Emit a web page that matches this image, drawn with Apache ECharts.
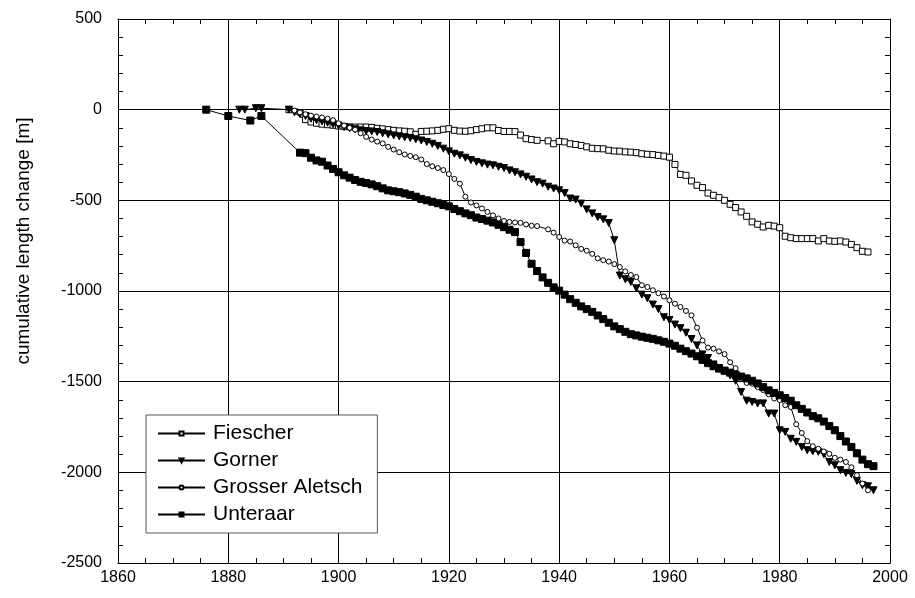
<!DOCTYPE html>
<html>
<head>
<meta charset="utf-8">
<script src="https://cdn.jsdelivr.net/npm/echarts@6/dist/echarts.min.js"></script>
<style>
  html, body { margin: 0; padding: 0; background: #fff; }
  #chart { width: 915px; height: 598px; }
</style>
</head>
<body>
<div id="chart"></div>
<script>
// Cumulative length change [m] of four Swiss glaciers, as [year, value]
const fiescher = [
  [1891,0],[1894,-55],[1895,-68],[1896,-75],[1897,-80],[1898,-83],[1899,-86],[1900,-90],
  [1901,-92],[1902,-95],[1903,-96],[1904,-96],[1905,-96],[1906,-98],[1907,-103],[1908,-106],
  [1909,-110],[1910,-114],[1911,-117],[1912,-119],[1913,-122],[1914,-136],[1915,-120],[1916,-119],
  [1917,-117],[1918,-114],[1919,-108],[1920,-105],[1921,-114],[1922,-118],[1923,-119],[1924,-116],
  [1925,-110],[1926,-105],[1927,-100],[1928,-100],[1929,-115],[1930,-120],[1931,-120],[1932,-121],
  [1933,-140],[1934,-160],[1935,-165],[1936,-169],[1938,-172],[1939,-188],[1940,-175],[1941,-178],
  [1942,-188],[1943,-192],[1944,-197],[1945,-205],[1946,-213],[1947,-215],[1948,-216],[1949,-224],
  [1950,-228],[1951,-229],[1952,-233],[1953,-234],[1954,-237],[1955,-243],[1956,-246],[1957,-248],
  [1958,-252],[1959,-256],[1960,-262],[1961,-302],[1962,-357],[1963,-362],[1964,-393],[1965,-417],
  [1966,-430],[1967,-460],[1968,-472],[1969,-485],[1970,-500],[1971,-522],[1972,-540],[1973,-564],
  [1974,-588],[1975,-619],[1976,-632],[1977,-647],[1978,-638],[1979,-642],[1980,-651],[1981,-698],
  [1982,-706],[1983,-711],[1984,-711],[1985,-711],[1986,-711],[1987,-724],[1988,-711],[1989,-724],
  [1990,-726],[1991,-724],[1992,-730],[1993,-743],[1994,-761],[1995,-781],[1996,-785]
];

const gorner = [
  [1882,0],[1883,0],[1885,8],[1886,8],[1891,0],[1892,-15],[1893,-25],[1894,-35],[1895,-50],
  [1896,-58],[1897,-65],[1898,-72],[1899,-80],[1900,-88],[1901,-96],[1902,-102],[1903,-108],
  [1904,-114],[1905,-118],[1906,-120],[1907,-123],[1908,-130],[1909,-136],[1910,-142],[1911,-147],
  [1912,-152],[1913,-156],[1914,-163],[1915,-170],[1916,-178],[1917,-188],[1918,-200],[1919,-215],
  [1920,-230],[1921,-243],[1922,-252],[1923,-265],[1924,-278],[1925,-288],[1926,-296],[1927,-303],
  [1928,-307],[1929,-315],[1930,-322],[1931,-335],[1932,-345],[1933,-357],[1934,-370],[1935,-385],
  [1936,-400],[1937,-408],[1938,-425],[1939,-435],[1940,-445],[1941,-460],[1942,-490],[1943,-496],
  [1944,-518],[1945,-550],[1946,-572],[1947,-592],[1948,-605],[1949,-625],[1950,-720],[1951,-915],
  [1952,-935],[1953,-950],[1954,-985],[1955,-1020],[1956,-1040],[1957,-1075],[1958,-1100],[1959,-1145],
  [1960,-1160],[1961,-1185],[1962,-1205],[1963,-1230],[1964,-1265],[1965,-1300],[1966,-1350],[1967,-1370],
  [1968,-1405],[1969,-1425],[1970,-1440],[1971,-1465],[1972,-1495],[1973,-1557],[1974,-1605],[1975,-1612],
  [1976,-1620],[1977,-1620],[1978,-1676],[1979,-1676],[1980,-1768],[1981,-1777],[1982,-1815],[1983,-1832],
  [1984,-1860],[1985,-1878],[1986,-1884],[1987,-1887],[1988,-1900],[1989,-1943],[1990,-1961],[1991,-1988],
  [1992,-2003],[1993,-2010],[1994,-2047],[1995,-2071],[1996,-2077],[1997,-2099]
];

const grosserAletsch = [
  [1892,-5],[1893,-15],[1894,-25],[1895,-33],[1896,-38],[1897,-43],[1898,-50],[1899,-58],
  [1900,-75],[1901,-88],[1902,-100],[1903,-110],[1904,-130],[1905,-150],[1906,-165],[1907,-176],
  [1908,-186],[1909,-205],[1910,-220],[1911,-235],[1912,-247],[1913,-255],[1914,-262],[1915,-275],
  [1916,-300],[1917,-312],[1918,-322],[1919,-333],[1920,-355],[1921,-382],[1922,-408],[1923,-480],
  [1924,-512],[1925,-528],[1926,-545],[1927,-564],[1928,-583],[1929,-600],[1930,-614],[1931,-619],
  [1932,-622],[1933,-624],[1934,-633],[1935,-640],[1936,-642],[1938,-660],[1939,-678],[1940,-702],
  [1941,-722],[1942,-727],[1943,-748],[1944,-768],[1945,-778],[1946,-795],[1947,-820],[1948,-830],
  [1949,-838],[1950,-852],[1951,-868],[1952,-892],[1953,-912],[1954,-923],[1955,-968],[1956,-978],
  [1957,-996],[1958,-1012],[1959,-1030],[1960,-1051],[1961,-1070],[1962,-1088],[1963,-1110],[1964,-1134],
  [1965,-1202],[1966,-1273],[1967,-1312],[1968,-1318],[1969,-1333],[1970,-1348],[1971,-1393],[1972,-1426],
  [1973,-1468],[1974,-1507],[1975,-1511],[1976,-1530],[1977,-1546],[1978,-1570],[1979,-1593],[1980,-1601],
  [1981,-1630],[1982,-1640],[1983,-1735],[1984,-1783],[1985,-1828],[1986,-1856],[1987,-1870],[1988,-1885],
  [1989,-1898],[1990,-1920],[1991,-1930],[1992,-1943],[1993,-1972],[1994,-2016],[1995,-2062],[1996,-2099]
];

const unteraar = [
  [1876,0],[1880,-35],[1884,-60],[1886,-35],[1893,-237],[1894,-240],[1895,-265],[1896,-280],
  [1897,-287],[1898,-308],[1899,-327],[1900,-345],[1901,-362],[1902,-375],[1903,-388],[1904,-398],
  [1905,-405],[1906,-412],[1907,-422],[1908,-434],[1909,-445],[1910,-450],[1911,-455],[1912,-462],
  [1913,-470],[1914,-480],[1915,-492],[1916,-500],[1917,-508],[1918,-516],[1919,-526],[1920,-533],
  [1921,-548],[1922,-560],[1923,-572],[1924,-582],[1925,-595],[1926,-603],[1927,-612],[1928,-622],
  [1929,-635],[1930,-648],[1931,-662],[1932,-675],[1933,-730],[1934,-790],[1935,-850],[1936,-890],
  [1937,-925],[1938,-955],[1939,-980],[1940,-998],[1941,-1020],[1942,-1045],[1943,-1065],[1944,-1085],
  [1945,-1100],[1946,-1115],[1947,-1135],[1948,-1155],[1949,-1175],[1950,-1195],[1951,-1210],[1952,-1225],
  [1953,-1238],[1954,-1245],[1955,-1252],[1956,-1258],[1957,-1264],[1958,-1272],[1959,-1280],[1960,-1290],
  [1961,-1302],[1962,-1318],[1963,-1332],[1964,-1345],[1965,-1360],[1966,-1380],[1967,-1398],[1968,-1415],
  [1969,-1428],[1970,-1440],[1971,-1450],[1972,-1462],[1973,-1472],[1974,-1482],[1975,-1495],[1976,-1510],
  [1977,-1530],[1978,-1548],[1979,-1562],[1980,-1575],[1981,-1590],[1982,-1605],[1983,-1630],[1984,-1650],
  [1985,-1670],[1986,-1690],[1987,-1702],[1988,-1720],[1989,-1745],[1990,-1768],[1991,-1800],[1992,-1830],
  [1993,-1860],[1994,-1895],[1995,-1930],[1996,-1955],[1997,-1966]
];

const seriesNames = ['Fiescher', 'Gorner', 'Grosser Aletsch', 'Unteraar'];
const yAxisTitle = 'cumulative length change [m]';

const FONT = '"Liberation Sans", Arial, Helvetica, sans-serif';
const INK = '#000';

// plain integers, no thousands separators
const plain = function (v) { return String(Math.round(v)); };

const chart = echarts.init(document.getElementById('chart'), null, { renderer: 'canvas' });

function frameAxis(extra) {
  return Object.assign({
    type: 'value',
    axisLine: { show: true, onZero: false, lineStyle: { color: INK, width: 1 } },
    axisTick: { show: true, inside: true, length: 5, lineStyle: { color: INK } },
    minorTick: { show: true, length: 5, lineStyle: { color: INK } },
    splitLine: { show: false },
    minorSplitLine: { show: false },
    axisLabel: { show: false }
  }, extra);
}

function lineSeries(name, data, symbol, size, fill, extra) {
  return Object.assign({
    name: name,
    type: 'line',
    data: data,
    symbol: symbol,
    symbolSize: size,
    showAllSymbol: true,
    color: INK,
    lineStyle: { color: INK, width: 1 },
    itemStyle: { color: fill, borderColor: INK, borderWidth: 1 },
    emphasis: { disabled: true },
    animation: false
  }, extra || {});
}

chart.setOption({
  backgroundColor: '#fff',
  animation: false,
  grid: { left: 118, right: 25, top: 19, bottom: 35, containLabel: false },
  xAxis: [
    frameAxis({
      position: 'bottom', min: 1860, max: 2000, interval: 20,
      minorTick: { show: true, splitNumber: 4, length: 5, lineStyle: { color: INK } },
      splitLine: { show: true, lineStyle: { color: INK, width: 1 } },
      axisLabel: { show: true, color: INK, fontSize: 16, fontFamily: FONT, margin: 7, formatter: plain }
    }),
    frameAxis({
      position: 'top', min: 1860, max: 2000, interval: 20,
      minorTick: { show: true, splitNumber: 4, length: 5, lineStyle: { color: INK } }
    })
  ],
  yAxis: [
    frameAxis({
      position: 'left', min: -2500, max: 500, interval: 500,
      minorTick: { show: true, splitNumber: 5, length: 5, lineStyle: { color: INK } },
      splitLine: { show: true, lineStyle: { color: INK, width: 1 } },
      axisLabel: { show: true, color: INK, fontSize: 16, fontFamily: FONT, margin: 16, formatter: plain }
    }),
    frameAxis({
      position: 'right', min: -2500, max: 500, interval: 500,
      minorTick: { show: true, splitNumber: 5, length: 5, lineStyle: { color: INK } }
    })
  ],
  legend: {
    orient: 'vertical',
    left: 146,
    top: 415,
    data: seriesNames,
    itemWidth: 47,
    itemHeight: 5,
    itemGap: 6,
    padding: [8, 15, 8, 11],
    backgroundColor: '#fff',
    borderColor: '#555',
    borderWidth: 1,
    borderRadius: 0,
    selectedMode: false,
    textStyle: { color: INK, fontSize: 21, fontFamily: FONT, padding: [0, 0, 0, 3] }
  },
  graphic: [{
    type: 'text',
    x: 24,
    y: 241,
    rotation: Math.PI / 2,
    style: {
      text: yAxisTitle,
      fill: INK,
      fontSize: 19,
      fontFamily: FONT,
      align: 'center',
      verticalAlign: 'middle'
    }
  }],
  series: [
    lineSeries(seriesNames[0], fiescher, 'rect', 6, '#fff', { z: 2 }),
    lineSeries(seriesNames[1], gorner, 'triangle', 7, INK, { symbolRotate: 180, z: 3 }),
    lineSeries(seriesNames[2], grosserAletsch, 'circle', 5, '#fff', { z: 4 }),
    lineSeries(seriesNames[3], unteraar, 'rect', 7, INK, { z: 5 })
  ]
});
</script>
</body>
</html>
